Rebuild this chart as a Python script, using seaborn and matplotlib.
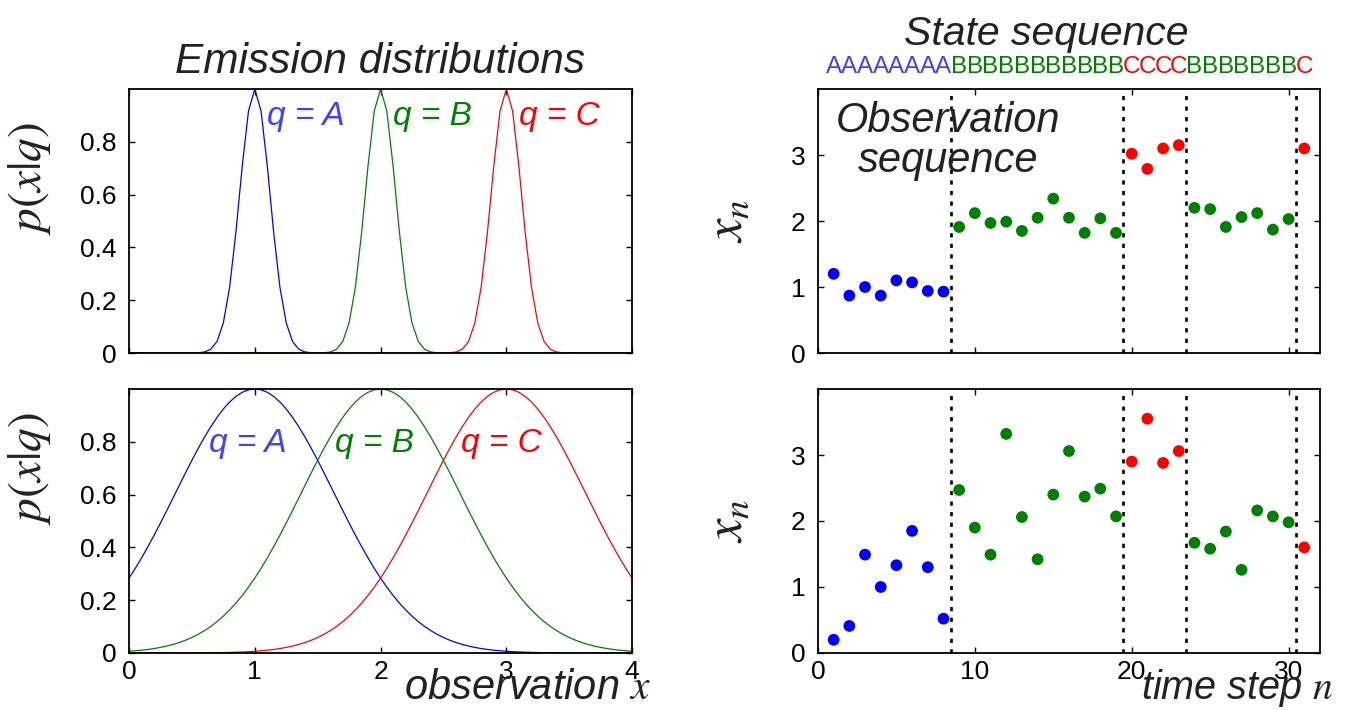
import numpy as np
import pandas as pd
import matplotlib
matplotlib.use("Agg")
import matplotlib.pyplot as plt
import seaborn as sns

# emission model: one gaussian bump per state (peak scaled to 1)
state_names = ["A", "B", "C"]
state_means = [1.0, 2.0, 3.0]
sigma_narrow = 0.12
sigma_wide = 0.63

# state sequence and the two observation sequences
states = list("AAAAAAAABBBBBBBBBBBCCCCBBBBBBBC")
obs_narrow = [1.20, 0.87, 1.00, 0.87, 1.10, 1.07, 0.94, 0.93,
              1.91, 2.12, 1.97, 1.99, 1.85, 2.05, 2.34, 2.05, 1.82, 2.04, 1.82,
              3.02, 2.79, 3.10, 3.15,
              2.20, 2.18, 1.91, 2.06, 2.12, 1.87, 2.03,
              3.10]
obs_wide = [0.20, 0.41, 1.49, 1.00, 1.33, 1.85, 1.30, 0.52,
            2.47, 1.90, 1.49, 3.32, 2.06, 1.42, 2.40, 3.06, 2.37, 2.49, 2.07,
            2.90, 3.55, 2.88, 3.06,
            1.67, 1.58, 1.84, 1.26, 2.16, 2.07, 1.98,
            1.60]

line_pal = {"A": "#0000ff", "B": "#008000", "C": "#ff0000"}
text_pal = {"A": "#4040ff", "B": "#008000", "C": "#ff0000"}

sns.set_style("ticks")
plt.rcParams["font.family"] = ["Liberation Sans", "DejaVu Sans"]
plt.rcParams["mathtext.fontset"] = "stix"
plt.rcParams["axes.linewidth"] = 1.3

x_grid = np.linspace(0, 4, 81)


def curves(sigma):
    rows = []
    for name, mu in zip(state_names, state_means):
        rows.append(pd.DataFrame({"x": x_grid,
                                  "p": np.exp(-(x_grid - mu) ** 2 / (2 * sigma ** 2)),
                                  "q": name}))
    return pd.concat(rows, ignore_index=True)


fig = plt.figure(figsize=(13.48, 7.10), dpi=100)
ax_lt = fig.add_axes([0.0957, 0.5028, 0.3732, 0.3718])
ax_lb = fig.add_axes([0.0957, 0.0803, 0.3732, 0.3718])
ax_rt = fig.add_axes([0.6068, 0.5028, 0.3724, 0.3718])
ax_rb = fig.add_axes([0.6068, 0.0803, 0.3724, 0.3718])

# left: emission distributions
for ax, sigma, lab_dx, lab_y in [(ax_lt, sigma_narrow, 0.10, 0.864),
                                 (ax_lb, sigma_wide, -0.36, 0.76)]:
    sns.lineplot(data=curves(sigma), x="x", y="p", hue="q", palette=line_pal,
                 linewidth=0.9, legend=False, ax=ax)
    ax.set_xlim(0, 4)
    ax.set_ylim(0, 1)
    ax.set_xticks([0, 1, 2, 3, 4])
    ax.set_yticks([0, 0.2, 0.4, 0.6, 0.8])
    ax.set_yticklabels(["0", "0.2", "0.4", "0.6", "0.8"])
    ax.set_xlabel("")
    ax.set_ylabel(r"$p(x|q)$", fontsize=34, color="#222222")
    for name, mu in zip(state_names, state_means):
        ax.text(mu + lab_dx, lab_y, "q = " + name, color=text_pal[name],
                fontsize=24, style="italic", ha="left", va="baseline")

ax_lt.yaxis.set_label_coords(-0.151, 0.66)
ax_lb.yaxis.set_label_coords(-0.151, 0.70)
ax_lt.set_xticklabels([])

# right: observation sequences
n = np.arange(1, len(states) + 1)
changes = [i + 1 for i in range(len(states) - 1) if states[i] != states[i + 1]]

for ax, obs in [(ax_rt, obs_narrow), (ax_rb, obs_wide)]:
    sns.scatterplot(x=n, y=obs, hue=states, palette=line_pal, s=72,
                    edgecolor="none", legend=False, ax=ax, zorder=3)
    for c in changes:
        ax.axvline(c + 0.45, color="black", lw=1.9, linestyle=(0, (1.6, 2.4)), zorder=2)
    ax.set_xlim(0, 32)
    ax.set_ylim(0, 4)
    ax.set_xticks([0, 10, 20, 30])
    ax.set_yticks([0, 1, 2, 3])
    ax.set_ylabel(r"$x_n$", fontsize=38, color="#222222")
    ax.yaxis.set_label_coords(-0.129, 0.5)

ax_rt.set_xticklabels([])

for ax in [ax_lt, ax_lb, ax_rt, ax_rb]:
    ax.tick_params(direction="in", length=4, width=1, top=True, right=True,
                   labelsize=19, pad=9, colors="black")
    ax.tick_params(axis="x", pad=5)
    for sp in ax.spines.values():
        sp.set_visible(True)
        sp.set_color("black")

# state letters above the top-right panel
for i, s in zip(n, states):
    ax_rt.text(i, 1.06, s, color=text_pal[s], fontsize=17.5, ha="center",
               va="baseline", transform=ax_rt.get_xaxis_transform())

ax_rt.text(0.259, 0.837, "Observation", transform=ax_rt.transAxes, fontsize=30,
           style="italic", ha="center", va="baseline", color="#222222")
ax_rt.text(0.259, 0.686, "sequence", transform=ax_rt.transAxes, fontsize=30,
           style="italic", ha="center", va="baseline", color="#222222")

fig.text(0.282, 0.897, "Emission distributions", fontsize=30.5, style="italic",
         ha="center", va="baseline", color="#222222")
fig.text(0.776, 0.9366, "State sequence", fontsize=29.5, style="italic",
         ha="center", va="baseline", color="#222222")
fig.text(0.483, 0.016, r"observation $x$", fontsize=30, style="italic",
         ha="right", va="baseline", color="#222222")
fig.text(0.989, 0.016, r"time step $n$", fontsize=28.5, style="italic",
         ha="right", va="baseline", color="#222222")

fig.savefig("out.png", dpi=100)
